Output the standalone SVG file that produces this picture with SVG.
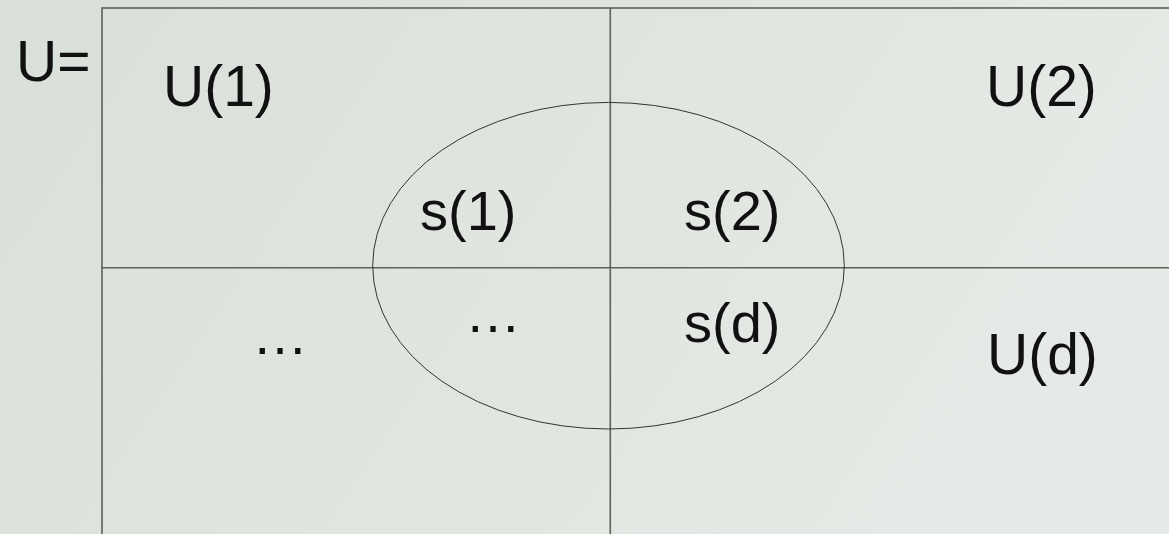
<svg xmlns="http://www.w3.org/2000/svg" width="1169" height="534" viewBox="0 0 1169 534">
  <defs>
    <linearGradient id="bg" x1="0" y1="0" x2="1" y2="0.3">
      <stop offset="0" stop-color="#d9dfd9"/>
      <stop offset="1" stop-color="#e6eae6"/>
    </linearGradient>
    <style>
      .t { font-family: "Liberation Sans", Arial, sans-serif; fill: #111111; }
      .big { font-size: 57px; }
      .sm { font-size: 56px; }
      .ln { stroke: #5a625a; stroke-width: 1.6; fill: none; }
      .el { stroke: #333333; stroke-width: 1; fill: none; }
    </style>
  </defs>
  <rect width="1169" height="534" fill="url(#bg)"/>
  <g id="grid">
    <rect class="ln" x="102" y="8" width="1100" height="560"/>
    <line class="ln" x1="610.3" y1="8" x2="610.3" y2="534"/>
    <line class="ln" x1="102" y1="267.7" x2="1169" y2="267.7"/>
  </g>
  <g id="ellipse">
    <ellipse class="el" cx="608.5" cy="265.7" rx="235.8" ry="163.3"/>
  </g>
  <g id="labels">
    <text class="t big" x="16" y="81">U=</text>
    <text class="t big" x="163" y="106">U(1)</text>
    <text class="t big" x="986" y="106">U(2)</text>
    <text class="t big" x="987" y="374">U(d)</text>
    <text class="t sm" x="420" y="230">s(1)</text>
    <text class="t sm" x="684" y="230">s(2)</text>
    <text class="t sm" x="684" y="342">s(d)</text>
    <text class="t sm" x="465" y="332">…</text>
    <text class="t sm" x="252" y="354">…</text>
  </g>
</svg>
